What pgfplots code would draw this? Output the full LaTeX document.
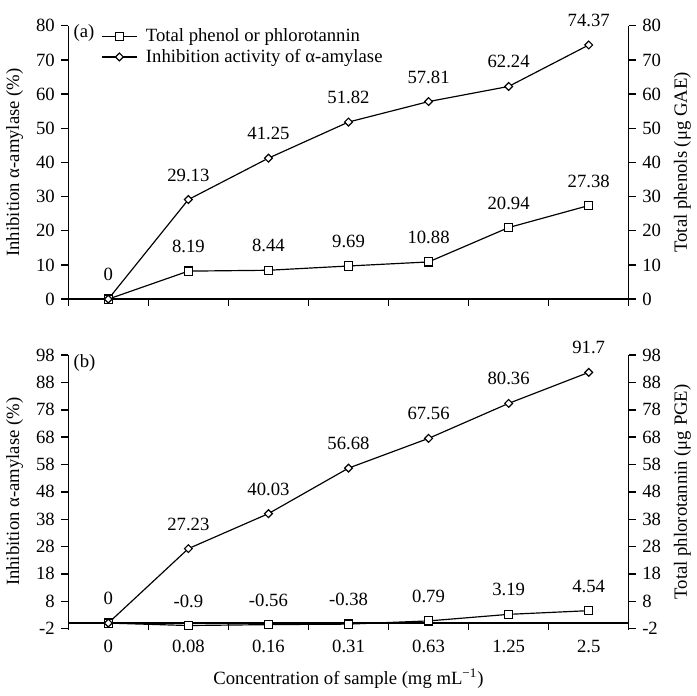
\documentclass[border=0pt]{standalone}
\usepackage{fontspec}
\setmainfont{Liberation Serif}
\usepackage{pgfplots}
\usepackage{pgfplotstable}
\pgfplotsset{compat=1.18}

% panel (a): total phenol / inhibition
\pgfplotstableread{
x phen phenlab inhib inhiblab
0 0     0     0     {}
1 8.19  8.19  29.13 29.13
2 8.44  8.44  41.25 41.25
3 9.69  9.69  51.82 51.82
4 10.88 10.88 57.81 57.81
5 20.94 20.94 62.24 62.24
6 27.38 27.38 74.37 74.37
}\dataA

% panel (b): total phlorotannin / inhibition
\pgfplotstableread{
x phlor phlorlab inhib inhiblab
0 0     0     0     {}
1 -0.9  -0.9  27.23 27.23
2 -0.56 -0.56 40.03 40.03
3 -0.38 -0.38 56.68 56.68
4 0.79  0.79  67.56 67.56
5 3.19  3.19  80.36 80.36
6 4.54  4.54  91.7  91.7
}\dataB

\pgfplotsset{
  panel/.style={
    scale only axis, width=285pt, height=139pt,
    xmin=-0.5, xmax=6.5,
    xtick={0,...,6},
    minor xtick={-0.5,0.5,...,6.5},
    major x tick style={draw=none},
    tick align=outside,
    major tick length=3.5pt, minor tick length=3.5pt,
    every tick/.append style={black, line width=0.7pt},
    axis line style={line width=0.7pt},
    /pgf/number format/assume math mode=true,
    hide obscured x ticks=false, hide obscured y ticks=false,
    clip=false,
  },
  ser/.style={black, line width=0.6pt,
    point meta=explicit symbolic, nodes near coords,
    nodes near coords align={anchor=center},
    every node near coord/.append style={yshift=12.5pt, black}},
  sq/.style={ser, mark=square*, mark size=2.1pt, mark options={solid, fill=white, line width=0.6pt}},
  dm/.style={ser, mark=square*, mark size=1.4pt, mark options={solid, fill=white, rotate=45, line width=0.6pt}},
}

\begin{document}
\fontsize{9.5}{11.4}\selectfont
\begin{tikzpicture}
\begin{axis}[panel, name=top,
  ymin=0, ymax=80, ytick={0,10,...,80},
  axis y line*=left, axis x line*=bottom,
  xticklabels={},
  ylabel={Inhibition α-amylase (\%)},
  legend cell align=left,
  legend image code/.code={
    \draw[black, line width=0.6pt] (0pt,0pt) -- (18pt,0pt);
    \draw[#1] plot coordinates {(9pt,0pt)};},
  legend style={at={(axis description cs:0.058,1)}, anchor=north west,
    draw=none, fill=none, inner sep=0pt, row sep=0pt,
    nodes={inner sep=1.2pt}},
]
\addplot[sq] table[x=x, y=phen, meta=phenlab]{\dataA};
\addlegendentry{\hspace{3pt}Total phenol or phlorotannin}
\addplot[dm] table[x=x, y=inhib, meta=inhiblab]{\dataA};
\addlegendentry{\hspace{3pt}Inhibition activity of α-amylase}
\node[anchor=west, inner sep=0pt] at ([xshift=2.5pt, yshift=-3.5pt]rel axis cs:0,1) {(a)};
\end{axis}
\begin{axis}[panel, at={(top.south west)}, anchor=south west,
  ymin=0, ymax=80, ytick={0,10,...,80},
  axis y line*=right, axis x line=none,
  ylabel={Total phenols (μg GAE)},
]
\addplot[draw=none] coordinates {(0,0)};
\end{axis}

\begin{axis}[panel, name=bot, at={(top.south west)}, anchor=north west, yshift=-28.5pt,
  ymin=-2, ymax=98, ytick={-2,8,...,98},
  axis y line*=left, axis x line*=middle,
  tick align=outside,
  xticklabels={0,0.08,0.16,0.31,0.63,1.25,2.5},
  xticklabel style={yshift=-2pt},
  xlabel={Concentration of sample (mg mL\textsuperscript{−1})},
  ylabel={Inhibition α-amylase (\%)},
  xlabel style={at={(axis description cs:0.5,0)}, anchor=north, yshift=-17pt},
]
\addplot[sq] table[x=x, y=phlor, meta=phlorlab]{\dataB};
\addplot[dm] table[x=x, y=inhib, meta=inhiblab]{\dataB};
\node[anchor=west, inner sep=0pt] at ([xshift=2.5pt, yshift=-4pt]rel axis cs:0,1) {(b)};
\end{axis}
\begin{axis}[panel, at={(bot.south west)}, anchor=south west,
  ymin=-2, ymax=98, ytick={-2,8,...,98},
  axis y line*=right, axis x line=none,
  ylabel={Total phlorotannin (μg PGE)},
]
\addplot[draw=none] coordinates {(0,0)};
\end{axis}
\path ([yshift=4pt]current bounding box.north);
\end{tikzpicture}
\end{document}
